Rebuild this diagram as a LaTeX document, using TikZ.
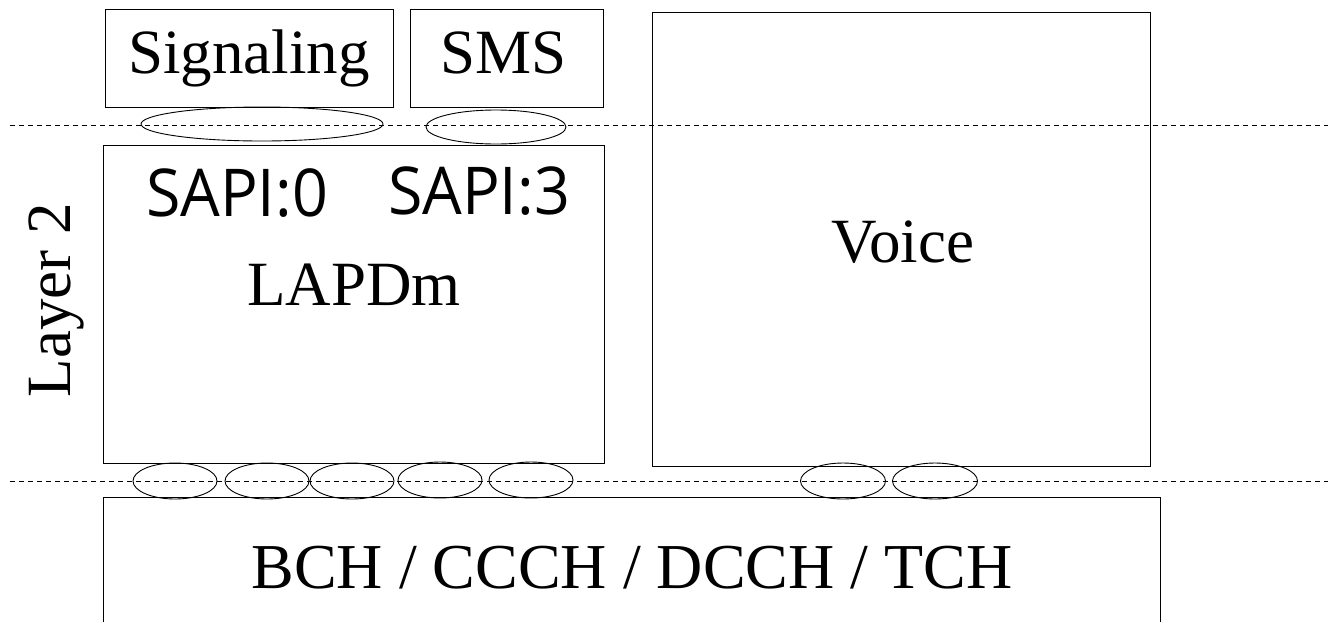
\documentclass[tikz,border=0pt]{standalone}
\usepackage{fontspec}
\setmainfont{Liberation Serif}
\newfontfamily\sapifont{Open Sans}
\usetikzlibrary{shapes.geometric}
\begin{document}
\begin{tikzpicture}[x=1pt,y=-1pt,
  box/.style={draw,line width=1pt,rectangle,inner sep=0pt},
  oval/.style={draw,line width=0.9pt,ellipse,inner sep=0pt},
  big/.style={font=\fontsize{63}{70}\selectfont,inner sep=0pt,anchor=base},
  sapi/.style={font=\sapifont\fontsize{66}{72}\selectfont,inner sep=0pt,anchor=base,transform shape,xscale=0.95},
  sep/.style={line width=0.9pt,dash pattern=on 5pt off 4pt}]
\useasboundingbox (0,0) rectangle (1328,622);
% boxes
\node[box,minimum width=288,minimum height=98] (sig) at (249,58) {};
\node[box,minimum width=193,minimum height=98] (sms) at (506.5,58) {};
\node[box,minimum width=501,minimum height=318] (lapdm) at (353.5,304) {};
\node[box,minimum width=498,minimum height=454] (voice) at (901,239) {};
\coordinate (bl) at (103,622);
\coordinate (btl) at (103,497);
\coordinate (btr) at (1160,497);
\coordinate (br) at (1160,622);
\draw[line width=1pt] (bl) -- (btl) -- (btr) -- (br);
% texts
\node[big] (tsig) at (249,73) {Signaling};
\node[big] (tsms) at (504,73) {SMS};
\node[sapi] (s0) at (237,216) {SAPI:0};
\node[sapi] (s3) at (479,214) {SAPI:3};
\node[big] (tlap) at (354,305) {LAPDm};
\node[big] (tvoice) at (903,262) {Voice};
\node[big,font=\fontsize{64}{70}\selectfont] (tch) at (632,588) {BCH / CCCH / DCCH / TCH};
\node[big,rotate=90] (layer) at (70,300) {Layer 2};
% separators
\coordinate (d1a) at (10,125);
\coordinate (d1b) at (1328,125);
\coordinate (d2a) at (10,481);
\coordinate (d2b) at (1328,481);
\draw[sep] (d1a) -- (d1b);
\draw[sep] (d2a) -- (d2b);
% service access points
\node[oval,minimum width=242,minimum height=34] (e1) at (262,124) {};
\node[oval,minimum width=140,minimum height=34] (e2) at (496,127) {};
\node[oval,minimum width=84,minimum height=36] (f1) at (175,481) {};
\node[oval,minimum width=84,minimum height=36] (f2) at (267,481) {};
\node[oval,minimum width=84,minimum height=36] (f3) at (352,481) {};
\node[oval,minimum width=84,minimum height=36] (f4) at (440,480) {};
\node[oval,minimum width=84,minimum height=36] (f5) at (531,480) {};
\node[oval,minimum width=85,minimum height=36] (g1) at (843,481) {};
\node[oval,minimum width=85,minimum height=36] (g2) at (935,481) {};
\end{tikzpicture}
\end{document}
